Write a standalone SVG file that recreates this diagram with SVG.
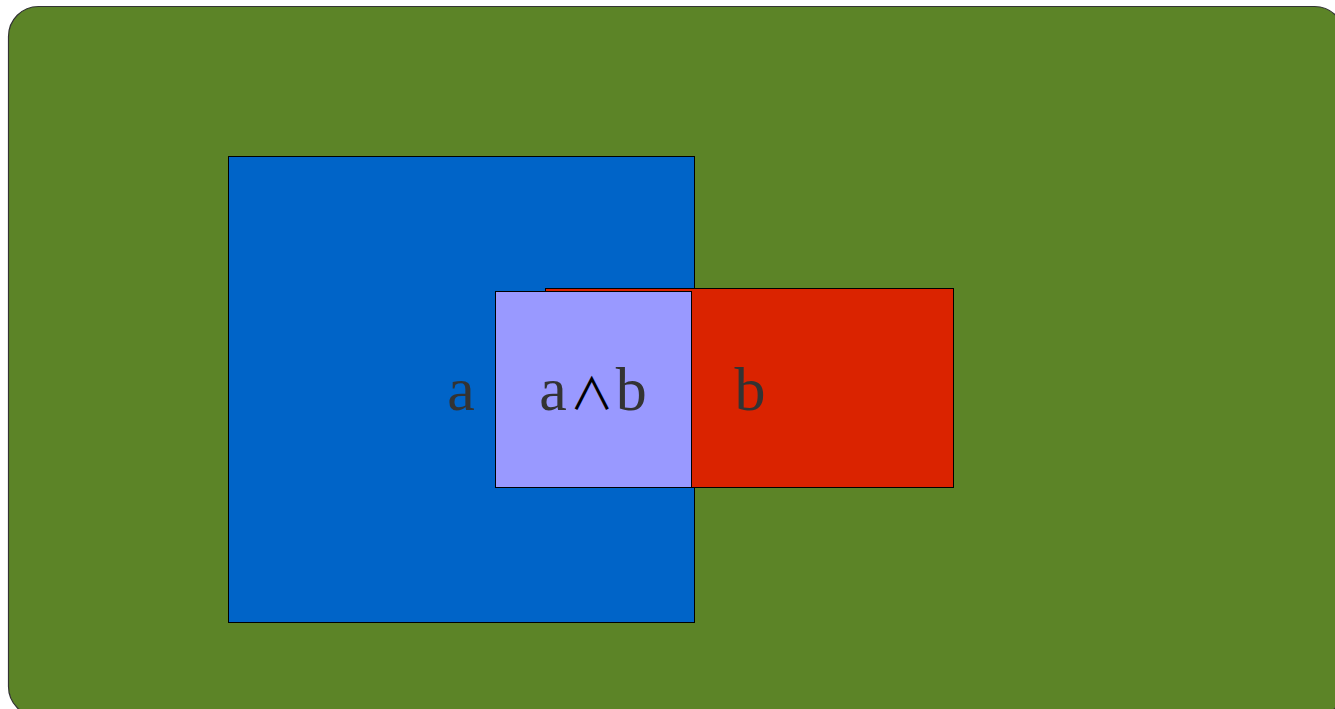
<svg xmlns="http://www.w3.org/2000/svg" width="1335" height="709" viewBox="0 0 1335 709">
<style>
.box{stroke:#000;stroke-width:1}
.lbl{font-family:"Liberation Serif","Times New Roman",serif;font-size:62px;fill:#333;text-anchor:middle}
.wedge{font-family:"Noto Sans CJK SC","DejaVu Sans",sans-serif;font-weight:400;font-size:44px;fill:#000}
</style>
<g id="background"><rect x="8.5" y="6.5" width="1336" height="710" rx="30" fill="#5c8427" stroke="#333" stroke-width="1.2"/></g>
<g id="a"><rect class="box" x="228.5" y="156.5" width="466" height="466" fill="#0064c8"/></g>
<g id="b"><rect class="box" x="545.5" y="288.5" width="408" height="199" fill="#da2300"/></g>
<g id="ab"><rect class="box" x="495.5" y="291.5" width="196" height="196" fill="#9999ff"/></g>
<g id="labels">
<text class="lbl" x="461" y="410">a</text>
<text class="lbl" x="593" y="410">a<tspan class="wedge" dx="3">∧</tspan><tspan dx="2">b</tspan></text>
<text class="lbl" x="750" y="410">b</text>
</g>
</svg>
